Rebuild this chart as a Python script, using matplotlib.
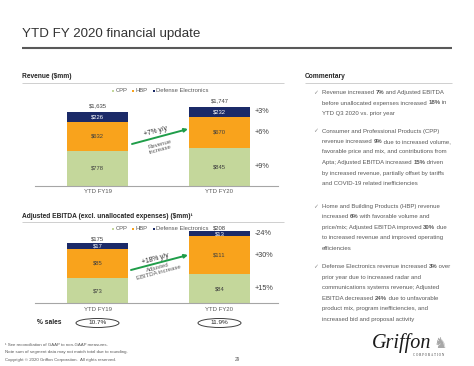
import matplotlib
matplotlib.use('Agg')
import matplotlib.pyplot as plt
from matplotlib.patches import Ellipse, Rectangle
from matplotlib.lines import Line2D
from matplotlib.font_manager import FontProperties

plt.rcParams['font.family'] = ['Liberation Sans', 'DejaVu Sans']

# ---------------- data ----------------
categories = ['YTD FY19', 'YTD FY20']
segments = ['CPP', 'HBP', 'Defense Electronics']
rev_cpp = [778, 845]
rev_hbp = [632, 670]
rev_de = [226, 232]
rev_total = [1635, 1747]
rev_growth = ['+9%', '+6%', '+3%']
ebitda_cpp = [73, 84]
ebitda_hbp = [85, 111]
ebitda_de = [17, 13]
ebitda_total = [175, 208]
ebitda_growth = ['+15%', '+30%', '-24%']
pct_sales = ['10.7%', '11.9%']

colors = ['#c4d79b', '#f9a31c', '#1b2a68']
label_colors = ['#404040', '#404040', '#ffffff']

W, H, DPI = 474, 366, 100
fig = plt.figure(figsize=(W / DPI, H / DPI), dpi=DPI)
fig.patch.set_facecolor('white')

DARK = '#404040'
GRAY = '#595959'


def fx(x):
    return x / W


def fy(y):
    return 1 - y / H


def hline(x0, x1, y, color, lw):
    fig.add_artist(Line2D([fx(x0), fx(x1)], [fy(y), fy(y)], transform=fig.transFigure,
                          color=color, lw=lw, solid_capstyle='butt'))


def ftext(x, y, s, **kw):
    kw.setdefault('va', 'center')
    kw.setdefault('ha', 'left')
    return fig.text(fx(x), fy(y), s, **kw)


# ---------------- header ----------------
ftext(22, 34, 'YTD FY 2020 financial update', fontsize=9.6, color='#333333')
hline(22, 452, 48, '#595959', 1.5)

ftext(22, 76.5, 'Revenue ($mm)', fontsize=4.8, weight='bold', color='#262626')
hline(22, 284, 82.5, '#c8c8c8', 0.6)
ftext(22, 216, 'Adjusted EBITDA (excl. unallocated expenses) ($mm)\u00b9', fontsize=4.8,
      weight='bold', color='#262626')
hline(22, 284, 222, '#c8c8c8', 0.6)
ftext(305, 76.5, 'Commentary', fontsize=4.8, weight='bold', color='#262626')
hline(305, 452, 82.5, '#c8c8c8', 0.6)


# ---------------- charts ----------------
def draw_chart(rect_px, ylim, cpp, hbp, de, total, growth, legend_y, total_gap):
    x0, x1, ybot, ytop = rect_px
    ax = fig.add_axes([fx(x0), fy(ybot), (x1 - x0) / W, (ybot - ytop) / H])
    ax.set_xlim(-1.025, 2.96)
    ax.set_ylim(*ylim)
    xs = [0, 2]
    series = [cpp, hbp, de]
    bottoms = [0, 0]
    for k, vals in enumerate(series):
        ax.bar(xs, vals, width=1.0, bottom=bottoms, color=colors[k], edgecolor='none')
        for i, v in enumerate(vals):
            ax.text(xs[i], bottoms[i] + v / 2, f'${v:,}', ha='center', va='center',
                    fontsize=4.2, color=label_colors[k])
        ax.text(2.57, bottoms[1] + vals[1] / 2, growth[k], ha='left', va='center',
                fontsize=5.2, color=DARK)
        bottoms = [b + v for b, v in zip(bottoms, vals)]
    for i, t in enumerate(total):
        ax.annotate(f'${t:,}', (xs[i], t), xytext=(0, total_gap), textcoords='offset points',
                    ha='center', va='bottom', fontsize=4.2, color=DARK)
    for s in ['top', 'right', 'left']:
        ax.spines[s].set_visible(False)
    ax.spines['bottom'].set_color('#a6a6a6')
    ax.spines['bottom'].set_linewidth(0.8)
    ax.set_yticks([])
    ax.set_xticks(xs)
    ax.set_xticklabels(categories, fontsize=4.3, color=GRAY)
    ax.tick_params(axis='x', length=0, pad=2.5)
    ax.patch.set_alpha(0)
    lx = [113, 133, 154]
    for k, name in enumerate(segments):
        fig.add_artist(Rectangle((fx(lx[k] - 1.3), fy(legend_y + 1.3)), 2.6 / W, 2.6 / H,
                                 transform=fig.transFigure, color=colors[k], lw=0))
        ftext(lx[k] + 2.3, legend_y, name, fontsize=4.2, color=GRAY)
    return ax


ax1 = draw_chart((35, 278, 186, 95.2), (0, 2000), rev_cpp, rev_hbp, rev_de, rev_total,
                 rev_growth, 91, 2.2)
ax2 = draw_chart((35, 278, 303.3, 220.3), (0, 240), ebitda_cpp, ebitda_hbp, ebitda_de,
                 ebitda_total, ebitda_growth, 229, 0.6)

GREEN = '#1f9d49'


def arrow(x0, y0, x1, y1):
    fig.add_artist(matplotlib.patches.FancyArrowPatch(
        (fx(x0), fy(y0)), (fx(x1), fy(y1)), transform=fig.transFigure,
        arrowstyle='-|>', mutation_scale=5, color=GREEN, lw=1.4, shrinkA=0, shrinkB=0))


arrow(132, 144, 188, 129)
ftext(156, 132, '+7% y/y', fontsize=4.8, color='#262626', ha='center', rotation=15)
ftext(160, 147, 'Revenue\nincrease', fontsize=4.3, color=GRAY, ha='center', rotation=15,
      linespacing=1.0)

arrow(131, 270, 188, 255)
ftext(155, 259, '+18% y/y', fontsize=4.8, color='#262626', ha='center', rotation=15)
ftext(158, 270, 'Adjusted\nEBITDA increase', fontsize=4.3, color=GRAY, ha='center',
      rotation=15, linespacing=1.0)

ftext(37, 323, '% sales', fontsize=4.8, color='#262626', weight='bold')
for cx, s in zip([97.5, 219.5], pct_sales):
    fig.add_artist(Ellipse((fx(cx), fy(323)), 43 / W, 9 / H, transform=fig.transFigure,
                           fill=False, ec=DARK, lw=0.7))
    ftext(cx, 323, s, fontsize=4.6, color='#262626', ha='center')

# ---------------- commentary ----------------
renderer = fig.canvas.get_renderer()
CSIZE = 4.35


def text_w(s, bold):
    prop = FontProperties(family=['Liberation Sans', 'DejaVu Sans'], size=CSIZE,
                          weight='bold' if bold else 'normal')
    w1, _, _ = renderer.get_text_width_height_descent('|' + s + '|', prop, ismath=False)
    w2, _, _ = renderer.get_text_width_height_descent('||', prop, ismath=False)
    return w1 - w2


def rich_line(x, y, line):
    parts = line.split('**')
    cx = x
    for i, p in enumerate(parts):
        if not p:
            continue
        bold = (i % 2 == 1)
        ftext(cx, y, p, fontsize=CSIZE, color=GRAY, weight='bold' if bold else 'normal')
        cx += text_w(p, bold)


bullets = [
    (92.5, ['Revenue increased **7%** and Adjusted EBITDA',
            'before unallocated expenses increased **18%** in',
            'YTD Q3 2020 vs. prior year']),
    (131, ['Consumer and Professional Products (CPP)',
           'revenue increased **9%** due to increased volume,',
           'favorable price and mix, and contributions from',
           'Apta; Adjusted EBITDA increased **15%** driven',
           'by increased revenue, partially offset by tariffs',
           'and COVID-19 related inefficiencies']),
    (206.5, ['Home and Building Products (HBP) revenue',
             'increased **6%** with favorable volume and',
             'price/mix; Adjusted EBITDA improved **30%** due',
             'to increased revenue and improved operating',
             'efficiencies']),
    (266.5, ['Defense Electronics revenue increased **3%** over',
             'prior year due to increased radar and',
             'communications systems revenue; Adjusted',
             'EBITDA decreased **24%** due to unfavorable',
             'product mix, program inefficiencies, and',
             'increased bid and proposal activity']),
]
for y0, lines in bullets:
    ftext(313, y0, '\u2713', fontsize=4.2, color='#8c8c8c')
    for j, ln in enumerate(lines):
        rich_line(322, y0 + j * 10.5, ln)

# ---------------- footer ----------------
ftext(5, 345, '\u00b9 See reconciliation of GAAP to non-GAAP measures.', fontsize=3.2, color=GRAY)
ftext(5, 351.5, 'Note sum of segment data may not match total due to rounding.', fontsize=3.2,
      color=GRAY)
ftext(5, 359.5, 'Copyright \u00a9 2020 Griffon Corporation.  All rights reserved.', fontsize=3.2,
      color=GRAY)
ftext(237, 359.5, '29', fontsize=3.4, color=GRAY, ha='center')

ftext(372, 343, 'Griffon', fontsize=14.5, family='Liberation Serif', style='italic',
      color='#1a1a1a')
ftext(413, 355, 'C O R P O R A T I O N', fontsize=2.3, family='Liberation Serif',
      color='#333333')
ftext(434, 343, '\u265e', fontsize=11, family='DejaVu Sans', color='#a8a8a8')

fig.savefig('out.png', dpi=DPI, facecolor='white')
